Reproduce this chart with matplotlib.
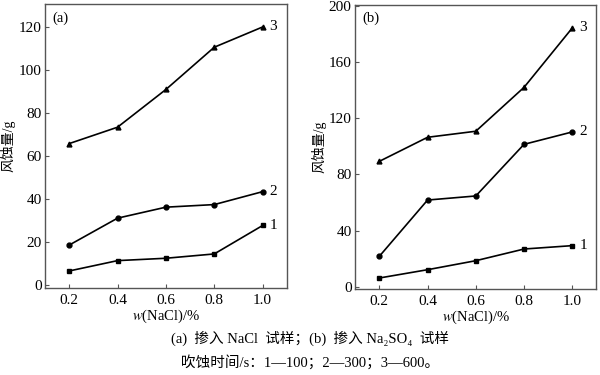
import matplotlib
matplotlib.use('Agg')
import matplotlib.pyplot as plt

# 字体：西文用 Times 风格，中文用 CJK
plt.rcParams['font.family'] = ['Liberation Serif', 'Noto Sans CJK SC']
plt.rcParams['mathtext.fontset'] = 'stix'

# 数据
x = [0.2, 0.4, 0.6, 0.8, 1.0]

a_1 = [6.7, 11.5, 12.6, 14.6, 27.8]
a_2 = [18.7, 31.2, 36.3, 37.5, 43.5]
a_3 = [65.8, 73.4, 90.9, 110.5, 119.9]

b_1 = [6.4, 12.3, 18.7, 27.0, 29.4]
b_2 = [21.8, 61.8, 64.7, 101.4, 110.2]
b_3 = [89.3, 106.4, 110.7, 141.9, 184.1]

xticks = [0.2, 0.4, 0.6, 0.8, 1.0]
a_yticks = [0, 20, 40, 60, 80, 100, 120]
b_yticks = [0, 40, 80, 120, 160, 200]

fig = plt.figure(figsize=(6, 3.75), dpi=100)
ax1 = fig.add_axes([0.075, 0.232, 0.403, 0.757])
ax2 = fig.add_axes([0.592, 0.229, 0.402, 0.758])


def draw(ax, s1, s2, s3, yticks, ylim, tag):
    ax.plot(x, s1, '-s', color='black', lw=1.2, ms=3.5)
    ax.plot(x, s2, '-o', color='black', lw=1.2, ms=3.5)
    ax.plot(x, s3, '-^', color='black', lw=1.2, ms=3.5)
    for s, lab in [(s1, '1'), (s2, '2'), (s3, '3')]:
        ax.annotate(lab, (x[-1], s[-1]), xytext=(5, 0), textcoords='offset points',
                    va='center', ha='left', fontsize=11)
    ax.set_xlim(0.1, 1.1)
    ax.set_ylim(*ylim)
    ax.set_xticks(xticks)
    ax.set_xticklabels([f'{v:.1f}' for v in xticks])
    ax.set_yticks(yticks)
    ax.tick_params(direction='in', length=3, labelsize=11, color='#555555')
    ax.tick_params(axis='y', pad=2.5)
    ax.tick_params(axis='x', pad=4)
    for sp in ax.spines.values():
        sp.set_color('#555555')
        sp.set_linewidth(1.0)
    ax.set_xlabel('$w$(NaCl)/%', fontsize=10.5, labelpad=1)
    ax.set_ylabel('风蚀量/g', fontsize=10, labelpad=2)
    ax.text(0.03, 0.975, tag, transform=ax.transAxes, ha='left', va='top', fontsize=10.5)


draw(ax1, a_1, a_2, a_3, a_yticks, (-1.2, 130.5), '(a)')
draw(ax2, b_1, b_2, b_3, b_yticks, (-1.5, 200.5), '(b)')

fig.text(0.517, 0.098, '(a)  掺入 NaCl  试样；(b)  掺入 Na₂SO₄  试样',
         ha='center', va='center', fontsize=10.5)
fig.text(0.517, 0.035, '吹蚀时间/s：1—100；2—300；3—600。',
         ha='center', va='center', fontsize=10.5)

fig.savefig('out.png', dpi=100)
